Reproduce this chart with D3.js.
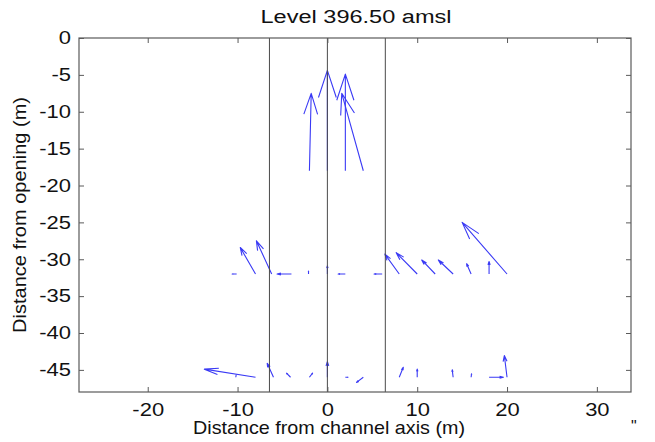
<!DOCTYPE html>
<html>
<head>
<meta charset="utf-8">
<script src="https://cdn.jsdelivr.net/npm/d3@7"></script>
<style>
  body { margin: 0; background: #fff; }
  svg text { font-family: "Liberation Sans", Arial, Helvetica, sans-serif; fill: #111; }
</style>
</head>
<body>
<svg id="chart" width="655" height="442"></svg>
<script>
// Velocity vectors: tail position and (scaled) u, v components.
const arrowX = [-2, 0, 2, 4,
  -10.1, -8, -6.2, -4, -2.1, 0, 2, 6.1, 8, 10, 12, 14, 16, 18, 20,
  -8, -10.2, -6, -4.1, -2, 0, 2, 4, 8, 10, 14, 16, 18, 20];
const arrowY = [-18, -18, -18, -18,
  -32, -32, -32, -32, -32, -32, -32, -32, -32, -32, -32, -32, -32, -32, -32,
  -46, -46, -46, -46, -46, -46, -46, -46, -46, -46, -46, -46, -46, -46];
const arrowU = [0.2, 0, 0, -2.4,
  -0.5, -1.7, -1.7, -1.6, 0, 0, -0.8, -0.9, -1.6, -2.35, -1.5, -1.65, -0.5, 0, -5,
  -5.7, 0.05, -0.7, -0.45, 0.35, 0, 0.3, -0.75, 0.45, 0, -0.1, 0.05, 1.6, -0.3];
const arrowV = [10.5, 13.6, 13.1, 10.5,
  0, 3.6, 4.5, 0, 0.4, 1.1, 0, 0, 2.7, 2.9, 1.9, 1.9, 1.4, 1.7, 7,
  1.1, 0.3, 1.9, 0.55, 0.55, 2.1, 0, -0.7, 1.35, 1.1, 1.0, 0.45, 0, 2.95];

// channel walls and axis
const guideLines = [-6.45, 0, 6.45];

const xTicks = [-20, -10, 0, 10, 20, 30];
const yTicks = [0, -5, -10, -15, -20, -25, -30, -35, -40, -45];

const margin = { top: 38, right: 24, bottom: 50, left: 79 };
const svg = d3.select('#chart');
const width = +svg.attr('width');
const height = +svg.attr('height');
const innerWidth = width - margin.left - margin.right;
const innerHeight = height - margin.top - margin.bottom;

const x = d3.scaleLinear().domain([-27.65, 33.8]).range([0, innerWidth]);
const y = d3.scaleLinear().domain([-48, 0]).range([innerHeight, 0]);

const g = svg.append('g').attr('transform', `translate(${margin.left},${margin.top})`);

// text in the source picture is stretched sideways
const stretch = 1.22;
const axisColor = '#5a5a5a';
const widen = sel => sel.each(function () {
  const w = this.getComputedTextLength();
  d3.select(this).attr('textLength', w * stretch).attr('lengthAdjust', 'spacingAndGlyphs');
});

// quiver arrows (drawn before the guide lines, which sit on top)
const alpha = 0.27, beta = 0.27;
const arrows = arrowX.map((x0, i) => ({ x0, y0: arrowY[i], u: arrowU[i], v: arrowV[i] }));

g.append('g')
  .selectAll('path')
  .data(arrows)
  .join('path')
  .attr('fill', 'none')
  .attr('stroke', '#3a3af5')
  .attr('stroke-width', 1.1)
  .attr('stroke-linejoin', 'round')
  .attr('d', d => {
    const hx = d.x0 + d.u, hy = d.y0 + d.v;
    const w1x = hx - alpha * (d.u + beta * d.v), w1y = hy - alpha * (d.v - beta * d.u);
    const w2x = hx - alpha * (d.u - beta * d.v), w2y = hy - alpha * (d.v + beta * d.u);
    return `M${x(d.x0)},${y(d.y0)}L${x(hx)},${y(hy)}` +
      `M${x(w1x)},${y(w1y)}L${x(hx)},${y(hy)}L${x(w2x)},${y(w2y)}`;
  });

// guide lines
g.append('g')
  .selectAll('line')
  .data(guideLines)
  .join('line')
  .attr('x1', d => x(d)).attr('x2', d => x(d))
  .attr('y1', 0).attr('y2', innerHeight)
  .attr('stroke', '#4a4a4a')
  .attr('stroke-width', 1);

// axes, ticks pointing inward on all four sides
const fmt = d => String(d);

const xAxis = g.append('g')
  .attr('transform', `translate(0,${innerHeight})`)
  .call(d3.axisBottom(x).tickValues(xTicks).tickFormat(fmt).tickSizeInner(-5).tickSizeOuter(0));
xAxis.selectAll('text')
  .attr('y', 11)
  .attr('font-size', 18)
  .call(widen);

const yAxis = g.append('g')
  .call(d3.axisLeft(y).tickValues(yTicks).tickFormat(fmt).tickSizeInner(-5).tickSizeOuter(0));
yAxis.selectAll('text')
  .attr('x', -8)
  .attr('font-size', 18)
  .call(widen);

g.append('g')
  .call(d3.axisTop(x).tickValues(xTicks).tickSizeInner(-5).tickSizeOuter(0).tickFormat(''));
g.append('g')
  .attr('transform', `translate(${innerWidth},0)`)
  .call(d3.axisRight(y).tickValues(yTicks).tickSizeInner(-5).tickSizeOuter(0).tickFormat(''));

g.selectAll('.domain').remove();
g.selectAll('.tick line').attr('stroke', axisColor);

g.append('rect')
  .attr('width', innerWidth)
  .attr('height', innerHeight)
  .attr('fill', 'none')
  .attr('stroke', axisColor)
  .attr('stroke-width', 1.2);

// labels
svg.append('text')
  .attr('x', 356).attr('y', 23)
  .attr('text-anchor', 'middle')
  .attr('font-size', 18)
  .attr('textLength', 191).attr('lengthAdjust', 'spacingAndGlyphs')
  .text('Level 396.50 amsl');

svg.append('text')
  .attr('x', 329).attr('y', 434)
  .attr('text-anchor', 'middle')
  .attr('font-size', 19)
  .attr('textLength', 272).attr('lengthAdjust', 'spacingAndGlyphs')
  .text('Distance from channel axis (m)');

svg.append('text')
  .attr('transform', 'translate(26,215) rotate(-90)')
  .attr('text-anchor', 'middle')
  .attr('font-size', 19)
  .attr('textLength', 236).attr('lengthAdjust', 'spacingAndGlyphs')
  .text('Distance from opening (m)');

svg.append('text')
  .attr('x', 631).attr('y', 432)
  .attr('font-size', 16)
  .text('"');
</script>
</body>
</html>
